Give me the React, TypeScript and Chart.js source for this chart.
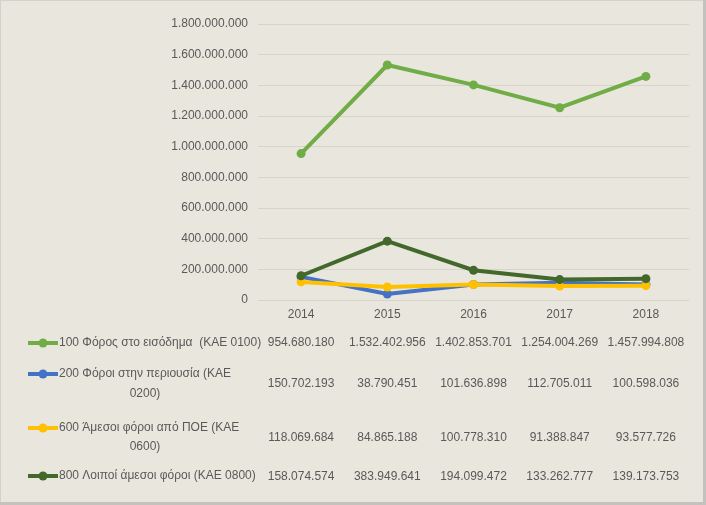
import React, { useEffect, useRef } from "react";
import { Chart, registerables } from "chart.js";

Chart.register(...registerables);

const years = ["2014", "2015", "2016", "2017", "2018"];
const income = [954680180, 1532402956, 1402853701, 1254004269, 1457994808];
const property = [150702193, 38790451, 101636898, 112705011, 100598036];
const poe = [118069684, 84865188, 100778310, 91388847, 93577726];
const otherDirect = [158074574, 383949641, 194099472, 133262777, 139173753];

const nameIncome = ["100 Φόρος στο εισόδημα  (ΚΑΕ 0100)"];
const nameProperty = ["200 Φόροι στην περιουσία (ΚΑΕ", "0200)"];
const namePoe = ["600 Άμεσοι φόροι από ΠΟΕ (ΚΑΕ", "0600)"];
const nameOther = ["800 Λοιποί άμεσοι φόροι (ΚΑΕ 0800)"];

const yMax = 1800000000;
const yStep = 200000000;

const FONT = "'Liberation Sans', Arial, sans-serif";
const FSIZE = 12;
const TEXT = "#595959";

function fmt(v: number): string {
  return Math.round(v).toString().replace(/\B(?=(\d{3})+(?!\d))/g, ".");
}

// layout of table rows (value row centre, legend line centres)
const rowValueY = [343, 384, 438, 477];
const rowLineY = [[343], [374, 394], [428, 447], [476]];

const tablePlugin = {
  id: "dataTable",
  beforeDraw(chart: any) {
    const { ctx, width, height } = chart;
    ctx.save();
    ctx.fillStyle = "#E9E6DE";
    ctx.fillRect(0, 0, width, height);
    ctx.fillStyle = "#D4D2CC";
    ctx.fillRect(0, 0, width, 1);
    ctx.fillRect(0, 0, 1, height);
    ctx.fillStyle = "#C4C2BE";
    ctx.fillRect(width - 3, 0, 3, height);
    ctx.fillRect(0, height - 3, width, 3);
    ctx.restore();
  },
  afterDraw(chart: any) {
    const { ctx } = chart;
    const xs = chart.scales.x;
    ctx.save();
    ctx.font = `${FSIZE}px ${FONT}`;
    ctx.fillStyle = TEXT;
    ctx.textBaseline = "middle";
    chart.data.datasets.forEach((ds: any, r: number) => {
      ctx.textAlign = "center";
      ctx.fillStyle = TEXT;
      ds.data.forEach((v: number, i: number) => {
        ctx.fillText(fmt(v), xs.getPixelForValue(i), rowValueY[r]);
      });
      const my = rowLineY[r][0];
      ctx.strokeStyle = ds.borderColor;
      ctx.lineWidth = 4;
      ctx.beginPath();
      ctx.moveTo(28, my);
      ctx.lineTo(58, my);
      ctx.stroke();
      ctx.fillStyle = ds.borderColor;
      ctx.beginPath();
      ctx.arc(43, my, 4.5, 0, Math.PI * 2);
      ctx.fill();
      ctx.fillStyle = TEXT;
      const lines: string[] = ds.tableName;
      lines.forEach((ln: string, k: number) => {
        if (k === 0) {
          ctx.textAlign = "left";
          ctx.fillText(ln, 59, rowLineY[r][k]);
        } else {
          ctx.textAlign = "center";
          ctx.fillText(ln, 145, rowLineY[r][k]);
        }
      });
    });
    ctx.restore();
  },
};

export default function App() {
  const ref = useRef<HTMLCanvasElement>(null);
  useEffect(() => {
    document.body.style.margin = "0";
    const mk = (label: string, data: number[], color: string, order: number, tableName: string[]) => ({
      label,
      data,
      borderColor: color,
      backgroundColor: color,
      pointBackgroundColor: color,
      pointBorderColor: color,
      borderWidth: 4,
      pointRadius: 4.5,
      pointBorderWidth: 0,
      tension: 0,
      order,
      tableName,
    });
    const chart = new Chart(ref.current!, {
      type: "line",
      data: {
        labels: years,
        datasets: [
          mk(nameIncome.join(" "), income, "#70AD47", 4, nameIncome),
          mk(nameProperty.join(" "), property, "#4472C4", 3, nameProperty),
          mk(namePoe.join(" "), poe, "#FFC000", 2, namePoe),
          mk(nameOther.join(" "), otherDirect, "#43682B", 1, nameOther),
        ] as any,
      },
      options: {
        responsive: false,
        animation: false,
        layout: { padding: { left: 0, top: 24, right: 17, bottom: 180 } },
        plugins: { legend: { display: false }, tooltip: { enabled: false } },
        scales: {
          x: {
            offset: true,
            grid: { display: false, drawTicks: false },
            border: { display: false },
            ticks: { color: TEXT, font: { family: FONT, size: FSIZE }, padding: 7 },
            afterFit: (s: any) => {
              s.height = 25;
            },
          },
          y: {
            min: 0,
            max: yMax,
            ticks: {
              stepSize: yStep,
              color: TEXT,
              font: { family: FONT, size: FSIZE },
              padding: 10,
              callback: (v: any) => fmt(Number(v)),
            },
            grid: { color: "#D7D4CC", lineWidth: 1, drawTicks: false },
            border: { display: false },
            afterFit: (s: any) => {
              s.width = 258;
            },
          },
        },
      },
      plugins: [tablePlugin],
    });
    return () => chart.destroy();
  }, []);
  return (
    <div style={{ position: "absolute", left: 0, top: 0, width: 706, height: 505 }}>
      <canvas ref={ref} width={706} height={505} style={{ width: 706, height: 505, display: "block" }} />
    </div>
  );
}
